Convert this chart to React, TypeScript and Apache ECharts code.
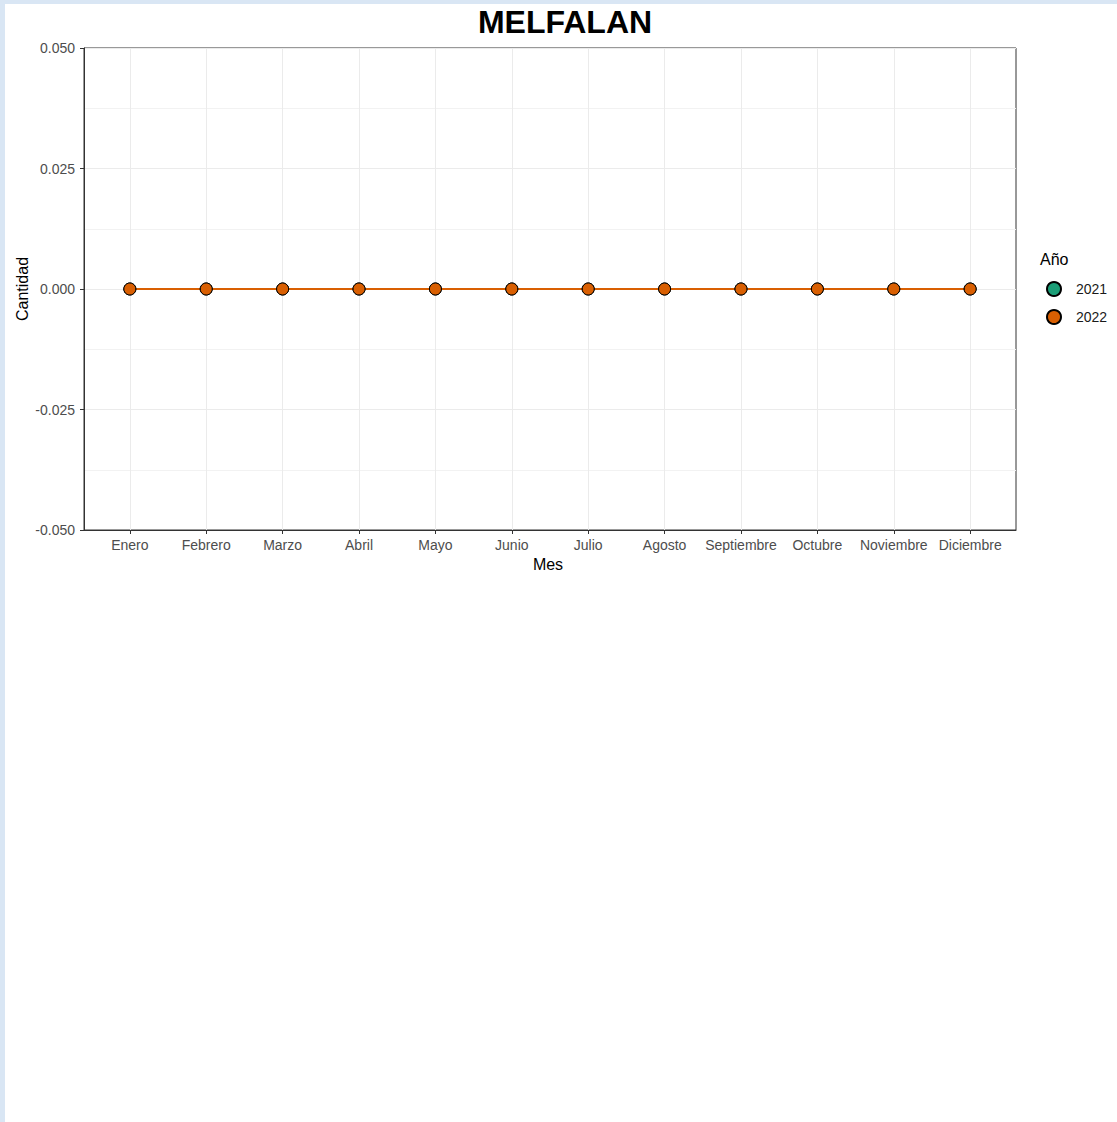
import React, { useEffect, useRef } from "react";
import * as echarts from "echarts";

const months = ["Enero", "Febrero", "Marzo", "Abril", "Mayo", "Junio", "Julio", "Agosto", "Septiembre", "Octubre", "Noviembre", "Diciembre"];
const values2021 = [0, 0, 0, 0, 0, 0, 0, 0, 0, 0, 0, 0];
const values2022 = [0, 0, 0, 0, 0, 0, 0, 0, 0, 0, 0, 0];
const seriesNames = ["2021", "2022"];
const seriesColors = ["#1B9E77", "#D95F02"];

export default function App() {
  const ref = useRef<HTMLDivElement>(null);
  useEffect(() => {
    document.body.style.margin = "0";
    const chart = echarts.init(ref.current!, null, { renderer: "svg" });
    const idx = months.map((_, i) => i);
    const font = "Liberation Sans, Arial, sans-serif";
    const mk = (name: string, vals: number[], color: string) => ({
      name,
      type: "line",
      data: vals.map((v, i) => [i, v]),
      symbol: "circle",
      symbolSize: 12,
      lineStyle: { color, width: 2 },
      itemStyle: { color, borderColor: "#000", borderWidth: 1 },
      z: 3,
    });
    chart.setOption({
      animation: false,
      backgroundColor: "#ffffff",
      textStyle: { fontFamily: font },
      grid: { left: 84, top: 48, width: 932, height: 482, show: true, borderColor: "#333", borderWidth: 1, backgroundColor: "transparent" },
      xAxis: {
        type: "value",
        min: -0.6,
        max: 11.6,
        axisLine: { show: true, onZero: false, lineStyle: { color: "#333" } },
        axisTick: { show: true, customValues: idx, length: 4, lineStyle: { color: "#333" } },
        axisLabel: { customValues: idx, formatter: (v: number) => months[Math.round(v)] ?? "", color: "#4d4d4d", fontSize: 14, margin: 8, fontFamily: font },
        splitLine: { show: true, lineStyle: { color: "#ebebeb", width: 1 } },
      },
      yAxis: {
        type: "value",
        min: -0.05,
        max: 0.05,
        interval: 0.025,
        axisLine: { show: true, onZero: false, lineStyle: { color: "#333" } },
        axisTick: { show: true, length: 4, lineStyle: { color: "#333" } },
        axisLabel: { formatter: (v: number) => v.toFixed(3), color: "#4d4d4d", fontSize: 14, margin: 9, fontFamily: font },
        splitLine: { show: true, lineStyle: { color: "#ebebeb", width: 1 } },
        minorTick: { show: false, splitNumber: 2 },
        minorSplitLine: { show: true, lineStyle: { color: "#f2f2f2", width: 1 } },
      },
      legend: {
        orient: "vertical",
        left: 1041,
        top: 276,
        itemWidth: 14,
        itemHeight: 14,
        itemGap: 12,
        icon: "circle",
        data: seriesNames,
        textStyle: { color: "#1a1a1a", fontSize: 14, fontFamily: font, padding: [0, 0, 0, 10] },
      },
      graphic: [
        { type: "rect", shape: { x: 0, y: 0, width: 5, height: 1122 }, style: { fill: "#d9e6f4" }, silent: true },
        { type: "rect", shape: { x: 0, y: 0, width: 1117, height: 4 }, style: { fill: "#d9e6f4" }, silent: true },
        { type: "text", x: 565, y: 22, style: { text: "MELFALAN", font: `bold 32px ${font}`, fill: "#000", textAlign: "center", textVerticalAlign: "middle" } },
        { type: "text", x: 548, y: 564, style: { text: "Mes", font: `16px ${font}`, fill: "#000", textAlign: "center", textVerticalAlign: "middle" } },
        { type: "text", x: 22, y: 289, rotation: Math.PI / 2, style: { text: "Cantidad", font: `16px ${font}`, fill: "#000", textAlign: "center", textVerticalAlign: "middle" } },
        { type: "text", x: 1040, y: 259, style: { text: "Año", font: `16px ${font}`, fill: "#000", textAlign: "left", textVerticalAlign: "middle" } },
      ],
      series: [mk(seriesNames[0], values2021, seriesColors[0]), mk(seriesNames[1], values2022, seriesColors[1])],
    });
    return () => chart.dispose();
  }, []);
  return <div ref={ref} style={{ width: 1117, height: 1122 }} />;
}
